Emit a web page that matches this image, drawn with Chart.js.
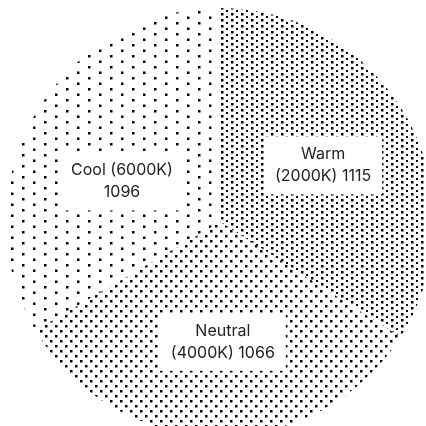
<!DOCTYPE html>
<html>
<head>
<meta charset="utf-8">
<script src="https://cdn.jsdelivr.net/npm/chart.js@4.4.1/dist/chart.umd.min.js"></script>
<style>
  html, body { margin: 0; padding: 0; background: #fff; overflow: hidden; }
  canvas { display: block; }
</style>
</head>
<body>
<canvas id="pieChart" width="426" height="426"></canvas>
<script>
// Data
const categories = ['Warm (2000K)', 'Neutral (4000K)', 'Cool (6000K)'];
const counts = [1115, 1066, 1096];

// Label line breaks as drawn in the picture
const labelLines = [
  ['Warm', '(2000K) 1115'],
  ['Neutral', '(4000K) 1066'],
  ['Cool (6000K)', '1096']
];

// small hand nudges so labels sit where the reference put them
const labelNudge = [[-2, 1], [5, 0], [6, 19]];

// Dot patterns for each slice (black on white)
function makePattern(w, h, dots) {
  const c = document.createElement('canvas');
  c.width = w;
  c.height = h;
  const g = c.getContext('2d');
  g.fillStyle = '#fff';
  g.fillRect(0, 0, w, h);
  g.fillStyle = '#000';
  dots.forEach(d => g.fillRect(d[0], d[1], d[2], d[2]));
  return document.createElement('canvas').getContext('2d').createPattern(c, 'repeat');
}

const warmPattern = makePattern(10, 6, [[1, 1, 2.5], [6, 4, 2]]);
const neutralPattern = makePattern(10, 10, [[0, 0, 2.5], [5, 5, 2.5]]);
const coolPattern = makePattern(22, 11, [[0, 0, 2.5], [11, 5.5, 2.5]]);

const boxLabels = {
  id: 'boxLabels',
  afterDatasetsDraw(chart) {
    const ctx = chart.ctx;
    const arcs = chart.getDatasetMeta(0).data;
    ctx.save();
    ctx.font = '16px Inter';
    ctx.textAlign = 'center';
    ctx.textBaseline = 'middle';
    const lineH = 22;
    arcs.forEach((arc, i) => {
      const mid = (arc.startAngle + arc.endAngle) / 2;
      const d = arc.outerRadius * 0.56;
      const x = arc.x + Math.cos(mid) * d + labelNudge[i][0];
      const y = arc.y + Math.sin(mid) * d + labelNudge[i][1];
      const lines = labelLines[i];
      const w = Math.max(...lines.map(t => ctx.measureText(t).width));
      const bw = w + 22;
      const bh = lines.length * lineH + 14;
      ctx.fillStyle = '#fff';
      ctx.fillRect(x - bw / 2, y - bh / 2, bw, bh);
      ctx.fillStyle = '#222';
      lines.forEach((t, k) => {
        ctx.fillText(t, x, y + (k - (lines.length - 1) / 2) * lineH);
      });
    });
    ctx.restore();
  }
};

const ctx = document.getElementById('pieChart').getContext('2d');
const pieChart = new Chart(ctx, {
  type: 'pie',
  data: {
    labels: categories,
    datasets: [{
      data: counts,
      backgroundColor: [warmPattern, neutralPattern, coolPattern],
      borderWidth: 0,
      hoverOffset: 0,
      clip: false
    }]
  },
  options: {
    responsive: false,
    animation: false,
    // the pie runs off the right and bottom edges in the reference
    radius: 214,
    layout: {
      padding: { left: 14, top: 18, right: 0, bottom: 0 }
    },
    plugins: {
      legend: { display: false },
      tooltip: { enabled: false }
    }
  },
  plugins: [boxLabels]
});
</script>
</body>
</html>
